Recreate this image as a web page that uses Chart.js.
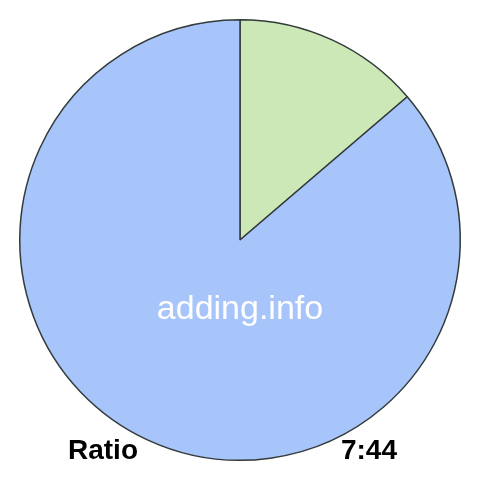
<!DOCTYPE html>
<html>
<head>
<meta charset="utf-8">
<script src="https://cdn.jsdelivr.net/npm/chart.js@4"></script>
<style>
  html, body { margin: 0; padding: 0; background: #fff; }
  #wrap { width: 480px; height: 480px; position: relative; }
</style>
</head>
<body>
<div id="wrap"><canvas id="pie"></canvas></div>
<script>
// chart data
const sliceLabels = ['7', '44'];
const sliceValues = [7, 44];
const sliceColors = ['#cde8b7', '#a7c5fa'];
const watermark = 'adding.info';
const footerLeft = 'Ratio';
const footerRight = sliceValues.join(':');

// draws the watermark and the footer texts on top of the pie
const textPlugin = {
    id: 'ratioText',
    afterDraw(chart) {
        const ctx = chart.ctx;
        ctx.save();
        ctx.fillStyle = '#ffffff';
        ctx.font = '34px Arial, "Liberation Sans", sans-serif';
        ctx.textAlign = 'center';
        ctx.textBaseline = 'alphabetic';
        ctx.fillText(watermark, 240, 319);

        ctx.fillStyle = '#000000';
        ctx.font = 'bold 28px Arial, "Liberation Sans", sans-serif';
        ctx.textAlign = 'left';
        ctx.fillText(footerLeft, 68, 459);
        ctx.textAlign = 'right';
        ctx.fillText(footerRight, 397, 459);
        ctx.restore();
    }
};

new Chart(document.getElementById('pie').getContext('2d'), {
    type: 'pie',
    data: {
        labels: sliceLabels,
        datasets: [{
            data: sliceValues,
            backgroundColor: sliceColors,
            borderColor: '#333a3a',
            borderWidth: 1.5,
            hoverOffset: 0
        }]
    },
    options: {
        responsive: true, maintainAspectRatio: false, animation: false,
        layout: { padding: 19 },
        plugins: { legend: { display: false }, tooltip: { enabled: false } }
    },
    plugins: [textPlugin]
});
</script>
</body>
</html>
